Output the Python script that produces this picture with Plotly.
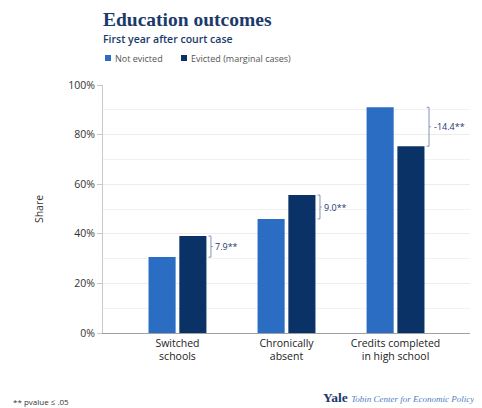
import plotly.graph_objects as go

categories = ["Switched<br>schools", "Chronically<br>absent", "Credits completed<br>in high school"]
series_names = ["Not evicted", "Evicted (marginal cases)"]
not_evicted = [30.6, 46.0, 91.0]
evicted = [39.1, 55.6, 75.3]
diff_labels = ["7.9**", "9.0**", "-14.4**"]
y_ticks = [0, 20, 40, 60, 80, 100]
y_ticktext = ["0%", "20%", "40%", "60%", "80%", "100%"]

LIGHT = "#2b6dc3"
DARK = "#0b3266"
NAVY = "#1b3a6b"
SANS = "Open Sans, Lato, sans-serif"

OFF = 8  # page body margin
W, H = 482 - OFF, 408 - OFF
ML, MT = 103 - OFF, 85 - OFF
MR = W - (470 - OFF)
MB = H - (333 - OFF)
PW, PH = W - ML - MR, H - MT - MB

def px(xs):
    return (xs - OFF - ML) / PW

def py(ys):
    return (H - MB - (ys - OFF)) / PH

fig = go.Figure()
fig.add_trace(go.Bar(x=categories, y=not_evicted, name=series_names[0],
                     marker=dict(color=LIGHT, line=dict(width=0)), showlegend=False))
fig.add_trace(go.Bar(x=categories, y=evicted, name=series_names[1],
                     marker=dict(color=DARK, line=dict(width=0)), showlegend=False))

shapes = []
annotations = []
BR_COLOR = "#8195b8"
for i, (a, b, lab) in enumerate(zip(not_evicted, evicted, diff_labels)):
    xv = i + 0.307
    shapes.append(dict(type="line", xref="x", yref="y", x0=xv, x1=xv, y0=a, y1=b,
                       line=dict(color=BR_COLOR, width=1)))
    for yy in (a, b):
        shapes.append(dict(type="line", xref="x", yref="y", x0=i + 0.285, x1=xv, y0=yy, y1=yy,
                           line=dict(color=BR_COLOR, width=1)))
    mid = (a + b) / 2
    shapes.append(dict(type="line", xref="x", yref="y", x0=xv, x1=i + 0.324, y0=mid, y1=mid,
                       line=dict(color=BR_COLOR, width=1)))
    annotations.append(dict(x=i + 0.33, y=mid, xref="x", yref="y", text=lab, showarrow=False,
                            xanchor="left", yanchor="middle",
                            font=dict(family=SANS, size=9, color=NAVY)))

# Title / subtitle
annotations.append(dict(x=px(102), y=py(OFF), xref="paper", yref="paper", text="Education outcomes",
                        showarrow=False, xanchor="left", yanchor="top", borderpad=0,
                        font=dict(family="Liberation Serif, serif", size=19.5, color=NAVY, weight="bold")))
annotations.append(dict(x=px(102), y=py(39), xref="paper", yref="paper", text="First year after court case",
                        showarrow=False, xanchor="left", yanchor="middle", borderpad=0,
                        font=dict(family=SANS, size=10.5, color=NAVY, weight=600)))

# Legend (manual)
leg_x = [105, 181]
leg_col = [LIGHT, DARK]
for xs, col, name in zip(leg_x, leg_col, series_names):
    shapes.append(dict(type="rect", xref="paper", yref="paper", x0=px(xs), x1=px(xs + 6),
                       y0=py(61), y1=py(55), fillcolor=col, line=dict(width=0)))
    annotations.append(dict(x=px(xs + 8), y=py(58), xref="paper", yref="paper", text=name,
                            showarrow=False, xanchor="left", yanchor="middle",
                            font=dict(family=SANS, size=9, color="#555555")))

# Footnote and logo
annotations.append(dict(x=px(11), y=py(401), xref="paper", yref="paper", text="** pvalue ≤ .05",
                        showarrow=False, xanchor="left", yanchor="middle",
                        font=dict(family=SANS, size=8, color="#333333")))
annotations.append(dict(x=px(321), y=py(397), xref="paper", yref="paper",
                        text="<b>Yale</b> <i><span style='font-size:9px;color:#4f7fc0'>Tobin Center for Economic Policy</span></i>",
                        showarrow=False, xanchor="left", yanchor="middle",
                        font=dict(family="Liberation Serif, serif", size=13.5, color=NAVY)))

fig.update_layout(
    width=W, height=H,
    margin=dict(l=ML, r=MR, t=MT, b=MB, pad=0),
    plot_bgcolor="white", paper_bgcolor="white",
    barmode="group", bargap=0.435, bargroupgap=0.12,
    shapes=shapes, annotations=annotations,
    showlegend=False,
    xaxis=dict(range=[-0.683, 2.683], showgrid=False, showline=True, linecolor="#a0a0a0",
               linewidth=1, ticks="", tickfont=dict(family=SANS, size=10.5, color="#222222"),
               fixedrange=True),
    yaxis=dict(range=[0, 100], tickvals=y_ticks, ticktext=y_ticktext, showgrid=True,
               gridcolor="#ececec", gridwidth=1, showline=True, linecolor="#c8c8c8", linewidth=1,
               ticks="outside", ticklen=5, tickcolor="#c8c8c8",
               minor=dict(dtick=10, showgrid=True, gridcolor="#f2f2f2", ticks=""),
               tickfont=dict(family=SANS, size=10.5, color="#333333"),
               title=dict(text="Share", standoff=22, font=dict(family=SANS, size=10.5, color="#333333")),
               zeroline=False, fixedrange=True),
)

fig.write_html("out.html")
